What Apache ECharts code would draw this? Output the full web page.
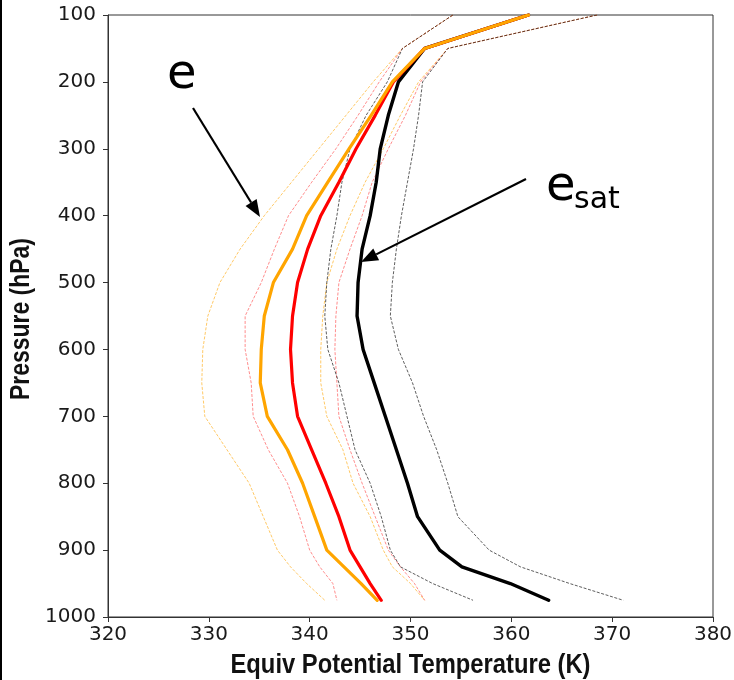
<!DOCTYPE html>
<html>
<head>
<meta charset="utf-8">
<script src="https://cdn.jsdelivr.net/npm/echarts@6/dist/echarts.min.js"></script>
<style>
  html, body { margin: 0; padding: 0; background: #fff; }
  #chart { width: 734px; height: 680px; }
</style>
</head>
<body>
<div id="chart"></div>
<script>
// Pressure levels (hPa) of the sounding profiles
const levels = [100, 150, 200, 250, 300, 350, 400, 450, 500, 550, 600, 650, 700, 750, 800, 850, 900, 925, 950, 975];

// Equivalent potential temperature profiles (K), one value per level
const thetaEMean   = [361.7, 351.4, 348.2, 346.1, 343.9, 341.8, 339.7, 338.3, 336.4, 335.5, 335.2, 335.1, 335.8, 337.8, 339.3, 340.5, 341.7, 343.4, 345.1, 346.7];
const thetaELow    = [354.2, 349.2, 346.3, 343.6, 340.9, 338.2, 335.5, 333.1, 331.1, 329.9, 329.4, 329.3, 329.6, 331.8, 334.0, 335.4, 336.8, 338.1, 339.7, 341.5];
const thetaEHigh   = [368.5, 353.7, 350.8, 349.0, 347.3, 345.5, 344.0, 342.7, 341.7, 341.3, 341.1, 341.1, 341.7, 343.3, 344.3, 346.0, 347.3, 348.2, 350.0, 351.4];

const thetaRMean   = [361.7, 351.4, 348.3, 346.5, 344.6, 342.9, 341.1, 339.8, 338.8, 338.3, 338.1, 338.3, 338.8, 340.2, 341.6, 342.9, 344.0, 345.0, 346.0, 347.1];
const thetaRLow    = [354.2, 349.2, 346.9, 344.8, 342.6, 340.2, 337.9, 336.5, 335.2, 333.6, 333.6, 334.2, 334.4, 335.9, 337.8, 339.0, 340.0, 341.0, 342.3, 342.7];
const thetaRHigh   = [368.5, 353.7, 351.0, 349.5, 347.8, 346.2, 345.2, 344.0, 342.9, 342.6, 342.5, 342.7, 342.9, 344.0, 345.2, 346.5, 347.8, 349.0, 350.4, 351.4];

const thetaESMean  = [361.7, 351.4, 348.8, 347.8, 347.0, 346.6, 346.0, 345.2, 344.8, 344.7, 345.3, 346.4, 347.5, 348.6, 349.7, 350.7, 352.9, 355.1, 359.9, 363.7];
const thetaESLow   = [354.2, 349.2, 347.7, 345.6, 344.0, 343.2, 342.7, 342.1, 341.7, 341.5, 341.8, 342.9, 343.7, 344.5, 346.0, 347.1, 348.0, 349.0, 352.2, 356.2];
const thetaESHigh  = [368.5, 353.7, 351.2, 350.8, 350.3, 349.7, 349.1, 348.6, 348.2, 348.0, 348.8, 350.2, 351.3, 352.6, 353.7, 354.7, 357.8, 360.9, 365.8, 371.1];

// Axis ranges and tick spacing
const xTicks = { min: 320, max: 380, step: 10 };
const yTicks = { min: 100, max: 1000, step: 100 };

// Axis titles
const xTitle = 'Equiv Potential Temperature (K)';
const yTitle = 'Pressure (hPa)';

function profile(vals) {
  return vals.map((v, i) => [v, levels[i]]);
}

function solid(name, vals, color, width, z) {
  return {
    name, type: 'line', data: profile(vals), showSymbol: false, symbol: 'none',
    lineStyle: { color, width, type: 'solid', cap: 'round', join: 'round' }, z,
    silent: true, animation: false
  };
}

function dashed(name, vals, color, z) {
  return {
    name, type: 'line', data: profile(vals), showSymbol: false, symbol: 'none',
    lineStyle: { color, width: 1, type: [3, 1.6] }, z,
    silent: true, animation: false
  };
}

// Arrow shaft + filled head, from tail to tip in pixel space
function arrow(x0, y0, x1, y1) {
  const dx = x1 - x0, dy = y1 - y0;
  const len = Math.hypot(dx, dy);
  const ux = dx / len, uy = dy / len;
  const headLen = 17, headHalf = 6.5;
  const bx = x1 - ux * headLen, by = y1 - uy * headLen;
  return [
    { type: 'line', shape: { x1: x0, y1: y0, x2: bx, y2: by },
      style: { stroke: '#000', lineWidth: 2.2 }, z: 50 },
    { type: 'polygon', shape: { points: [
        [x1, y1],
        [bx - uy * headHalf, by + ux * headHalf],
        [bx + uy * headHalf, by - ux * headHalf]
      ] }, style: { fill: '#000' }, z: 50 }
  ];
}

const chart = echarts.init(document.getElementById('chart'), null, { renderer: 'canvas' });

const labelFont = { fontFamily: 'DejaVu Sans', fontSize: 20, color: '#1a1a1a' };
const titleFont = 'bold 27px "Liberation Sans", Arial, sans-serif';

const grid = { left: 108, right: 21, top: 15, bottom: 63 };
const plotW = 734 - grid.left - grid.right;
const plotH = 680 - grid.top - grid.bottom;

chart.setOption({
  backgroundColor: '#fff',
  animation: false,
  grid: Object.assign({ show: true, borderColor: '#333', borderWidth: 1, backgroundColor: 'transparent',
    containLabel: false, outerBoundsMode: 'none' }, grid),
  xAxis: {
    type: 'value', min: xTicks.min, max: xTicks.max, interval: xTicks.step,
    axisLine: { show: true, onZero: false, lineStyle: { color: '#333', width: 1 } },
    axisTick: { show: true, inside: false, length: 5, lineStyle: { color: '#333' } },
    axisLabel: Object.assign({ margin: 8, formatter: v => String(v) }, labelFont),
    splitLine: { show: false }
  },
  yAxis: {
    type: 'value', inverse: true, min: yTicks.min, max: yTicks.max, interval: yTicks.step,
    axisLine: { show: true, onZero: false, lineStyle: { color: '#333', width: 1 } },
    axisTick: { show: true, inside: false, length: 5, lineStyle: { color: '#333' } },
    axisLabel: Object.assign({ margin: 12, formatter: v => String(v) }, labelFont),
    splitLine: { show: false }
  },
  series: [
    dashed('theta_e low', thetaELow, 'rgba(255,165,0,0.6)', 2),
    dashed('theta_e high', thetaEHigh, 'rgba(255,165,0,0.6)', 2),
    dashed('theta_r low', thetaRLow, 'rgba(255,0,0,0.45)', 3),
    dashed('theta_r high', thetaRHigh, 'rgba(255,0,0,0.45)', 3),
    dashed('theta_es low', thetaESLow, 'rgba(40,40,40,0.75)', 4),
    dashed('theta_es high', thetaESHigh, 'rgba(40,40,40,0.75)', 4),
    solid('theta_es', thetaESMean, '#000000', 3.4, 5),
    solid('theta_r', thetaRMean, '#ff0000', 3.2, 6),
    solid('theta_e', thetaEMean, '#ffa500', 3.2, 7)
  ],
  graphic: [
    { type: 'rect', shape: { x: 0, y: 0, width: 2, height: 680 }, style: { fill: '#000' }, z: 60 },
    // axis titles, bold condensed
    { type: 'text', x: grid.left + plotW / 2, y: 666, scaleX: 0.88, z: 50,
      style: { text: xTitle, font: titleFont, fill: '#111', align: 'center', verticalAlign: 'middle' } },
    { type: 'text', x: 22, y: grid.top + plotH / 2 + 3, rotation: Math.PI / 2, scaleX: 0.85, z: 50,
      style: { text: yTitle, font: titleFont, fill: '#111', align: 'center', verticalAlign: 'middle' } },
    // annotations
    { type: 'text', x: 167, y: 52, z: 50,
      style: { text: 'e', font: '48px "DejaVu Sans"', fill: '#000', verticalAlign: 'top' } },
    { type: 'text', x: 546, y: 164, z: 50,
      style: { text: 'e', font: '48px "DejaVu Sans"', fill: '#000', verticalAlign: 'top' } },
    { type: 'text', x: 574, y: 185, z: 50,
      style: { text: 'sat', font: '30px "DejaVu Sans"', fill: '#000', verticalAlign: 'top' } },
    ...arrow(193, 108, 260, 217),
    ...arrow(526, 179, 361, 262)
  ]
});
</script>
</body>
</html>
